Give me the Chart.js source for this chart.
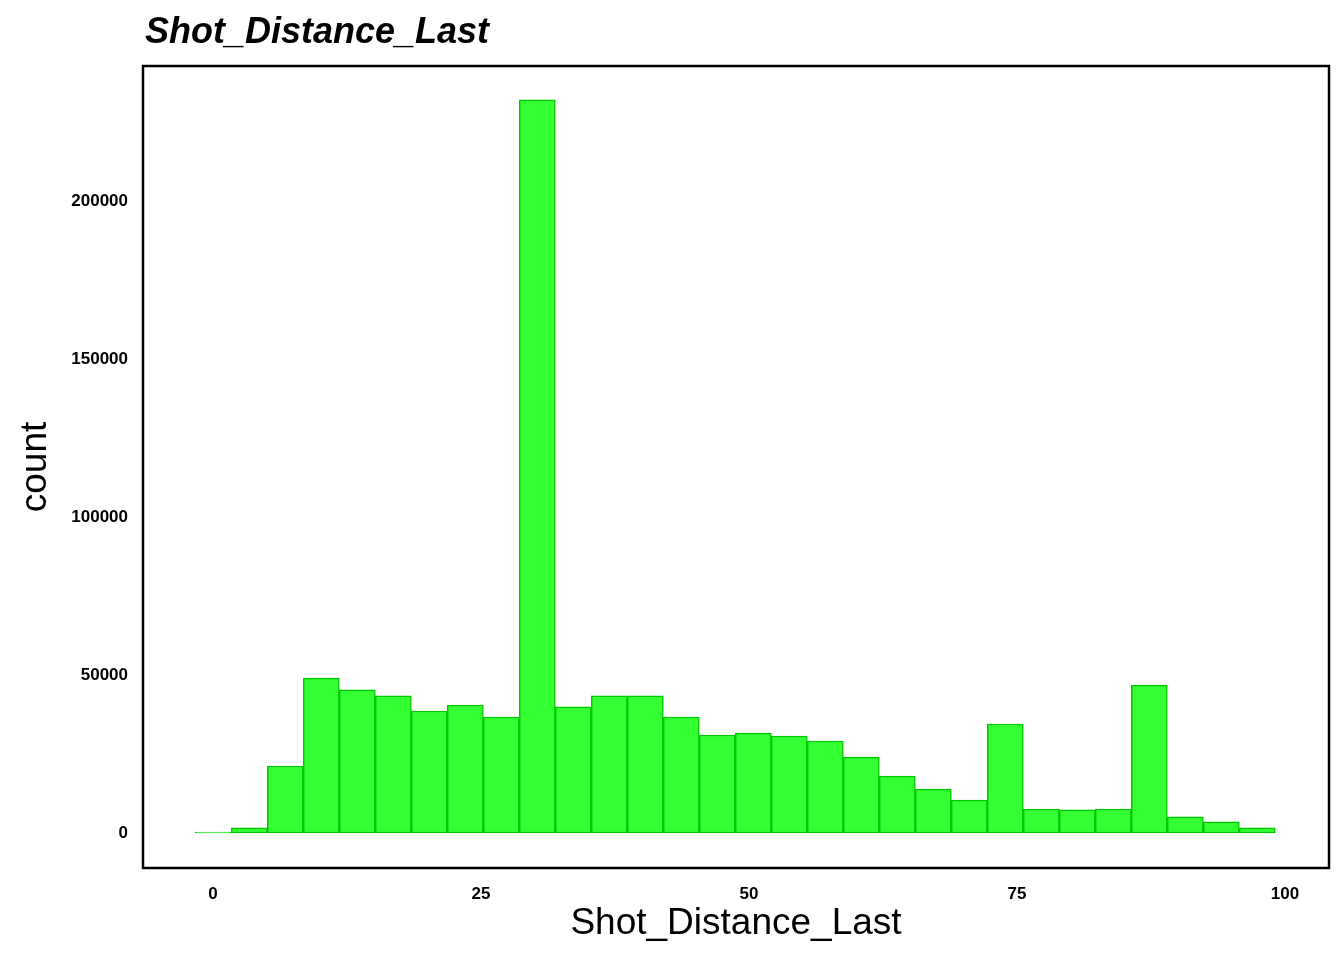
<!DOCTYPE html>
<html><head><meta charset="utf-8">
<script src="https://cdn.jsdelivr.net/npm/chart.js@4"></script>
<style>html,body{margin:0;padding:0;background:#fff}#w{width:1344px;height:960px}</style>
</head><body><div id="w"><canvas id="c"></canvas></div>
<script>
const binStart = -1.65;
const binWidth = 3.358;
const counts = [300,1600,21200,49000,45300,43400,38600,40500,36700,232000,39900,43400,43400,36700,31000,31600,30700,29100,24000,18000,13900,10400,34500,7600,7300,7600,46800,5100,3500,1600];
const xTicks = [0,25,50,75,100];
const yTicks = [0,50000,100000,150000,200000];
const pts = counts.map((v,i)=>({x: binStart + binWidth*(i+0.5), y: v}));
const boxPlugin = {id:'box', afterDraw(ch){const a=ch.chartArea,c=ch.ctx;c.save();c.strokeStyle='#000';c.lineWidth=2.5;c.strokeRect(a.left,a.top,a.right-a.left,a.bottom-a.top);
 c.fillStyle='#000';c.font='italic bold 36px "Liberation Sans"';c.textBaseline='alphabetic';c.fillText('Shot_Distance_Last',145,43);c.restore();}};
new Chart(document.getElementById('c'),{
type:'bar',
data:{datasets:[{data:pts,backgroundColor:'#33ff33',borderColor:'#00c800',borderWidth:1.5,barPercentage:1,categoryPercentage:1,borderSkipped:false}]},
options:{responsive:true,maintainAspectRatio:false,animation:false,
layout:{padding:{left:10,right:15,top:66,bottom:10}},
plugins:{legend:{display:false},tooltip:{enabled:false},title:{display:false}},
scales:{
 x:{type:'linear',offset:false,min:-6.53,max:104.1,grid:{display:false},border:{display:false},
  afterBuildTicks(s){s.ticks=xTicks.map(v=>({value:v}));},
  ticks:{color:'#000',font:{family:'Liberation Sans',size:17,weight:'bold'},padding:8,callback:v=>String(v)},
  title:{display:true,text:'Shot_Distance_Last',color:'#000',font:{family:'Liberation Sans',size:37},padding:{top:0}},
  afterFit(s){s.height=82;}},
 y:{min:-11076,max:242700,grid:{display:false},border:{display:false},
  afterBuildTicks(s){s.ticks=yTicks.map(v=>({value:v}));},
  ticks:{color:'#000',font:{family:'Liberation Sans',size:17,weight:'bold'},padding:7,callback:v=>String(v)},
  title:{display:true,text:'count',color:'#000',font:{family:'Liberation Sans',size:37},padding:{bottom:0}},
  afterFit(s){s.width=133;}}
}},
plugins:[boxPlugin]});
</script></body></html>
